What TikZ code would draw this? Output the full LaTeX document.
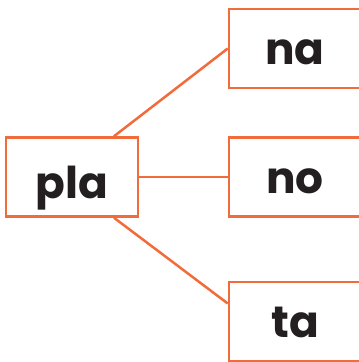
\documentclass[tikz,border=0pt]{standalone}
\usepackage{fontspec}
\setmainfont{Poppins}[UprightFont=* Bold]
\definecolor{syllorange}{HTML}{F26B3A}
\definecolor{syllink}{HTML}{231F20}
\begin{document}
\begin{tikzpicture}[x=1bp,y=1bp]
        \tikzstyle{syllable}=[rectangle,draw=syllorange,line width=2.5bp,fill=white,minimum width=132bp,minimum height=79bp,inner sep=0pt,text=syllink,text height=40bp,text depth=8bp,font=\fontsize{44}{44}\selectfont]
        \tikzstyle{edge}=[draw=syllorange,line width=2.5bp]
        \useasboundingbox (0,0) rectangle (359,362);
         \node [syllable,text height=46bp,text depth=4bp] (pla) at (72,185) {pla};
         \node [syllable] (na) at (295,313.5) {na};
         \node [syllable] (no) at (295,185) {no};
         \node [syllable] (ta) at (295,40.5) {ta};

         \path[edge] ([xshift=42bp]pla.north) -- (na.west);
         \path[edge] (pla.east) -- (no.west);
         \path[edge] ([xshift=42bp]pla.south) -- ([yshift=18bp]ta.west);
\end{tikzpicture}
\end{document}
